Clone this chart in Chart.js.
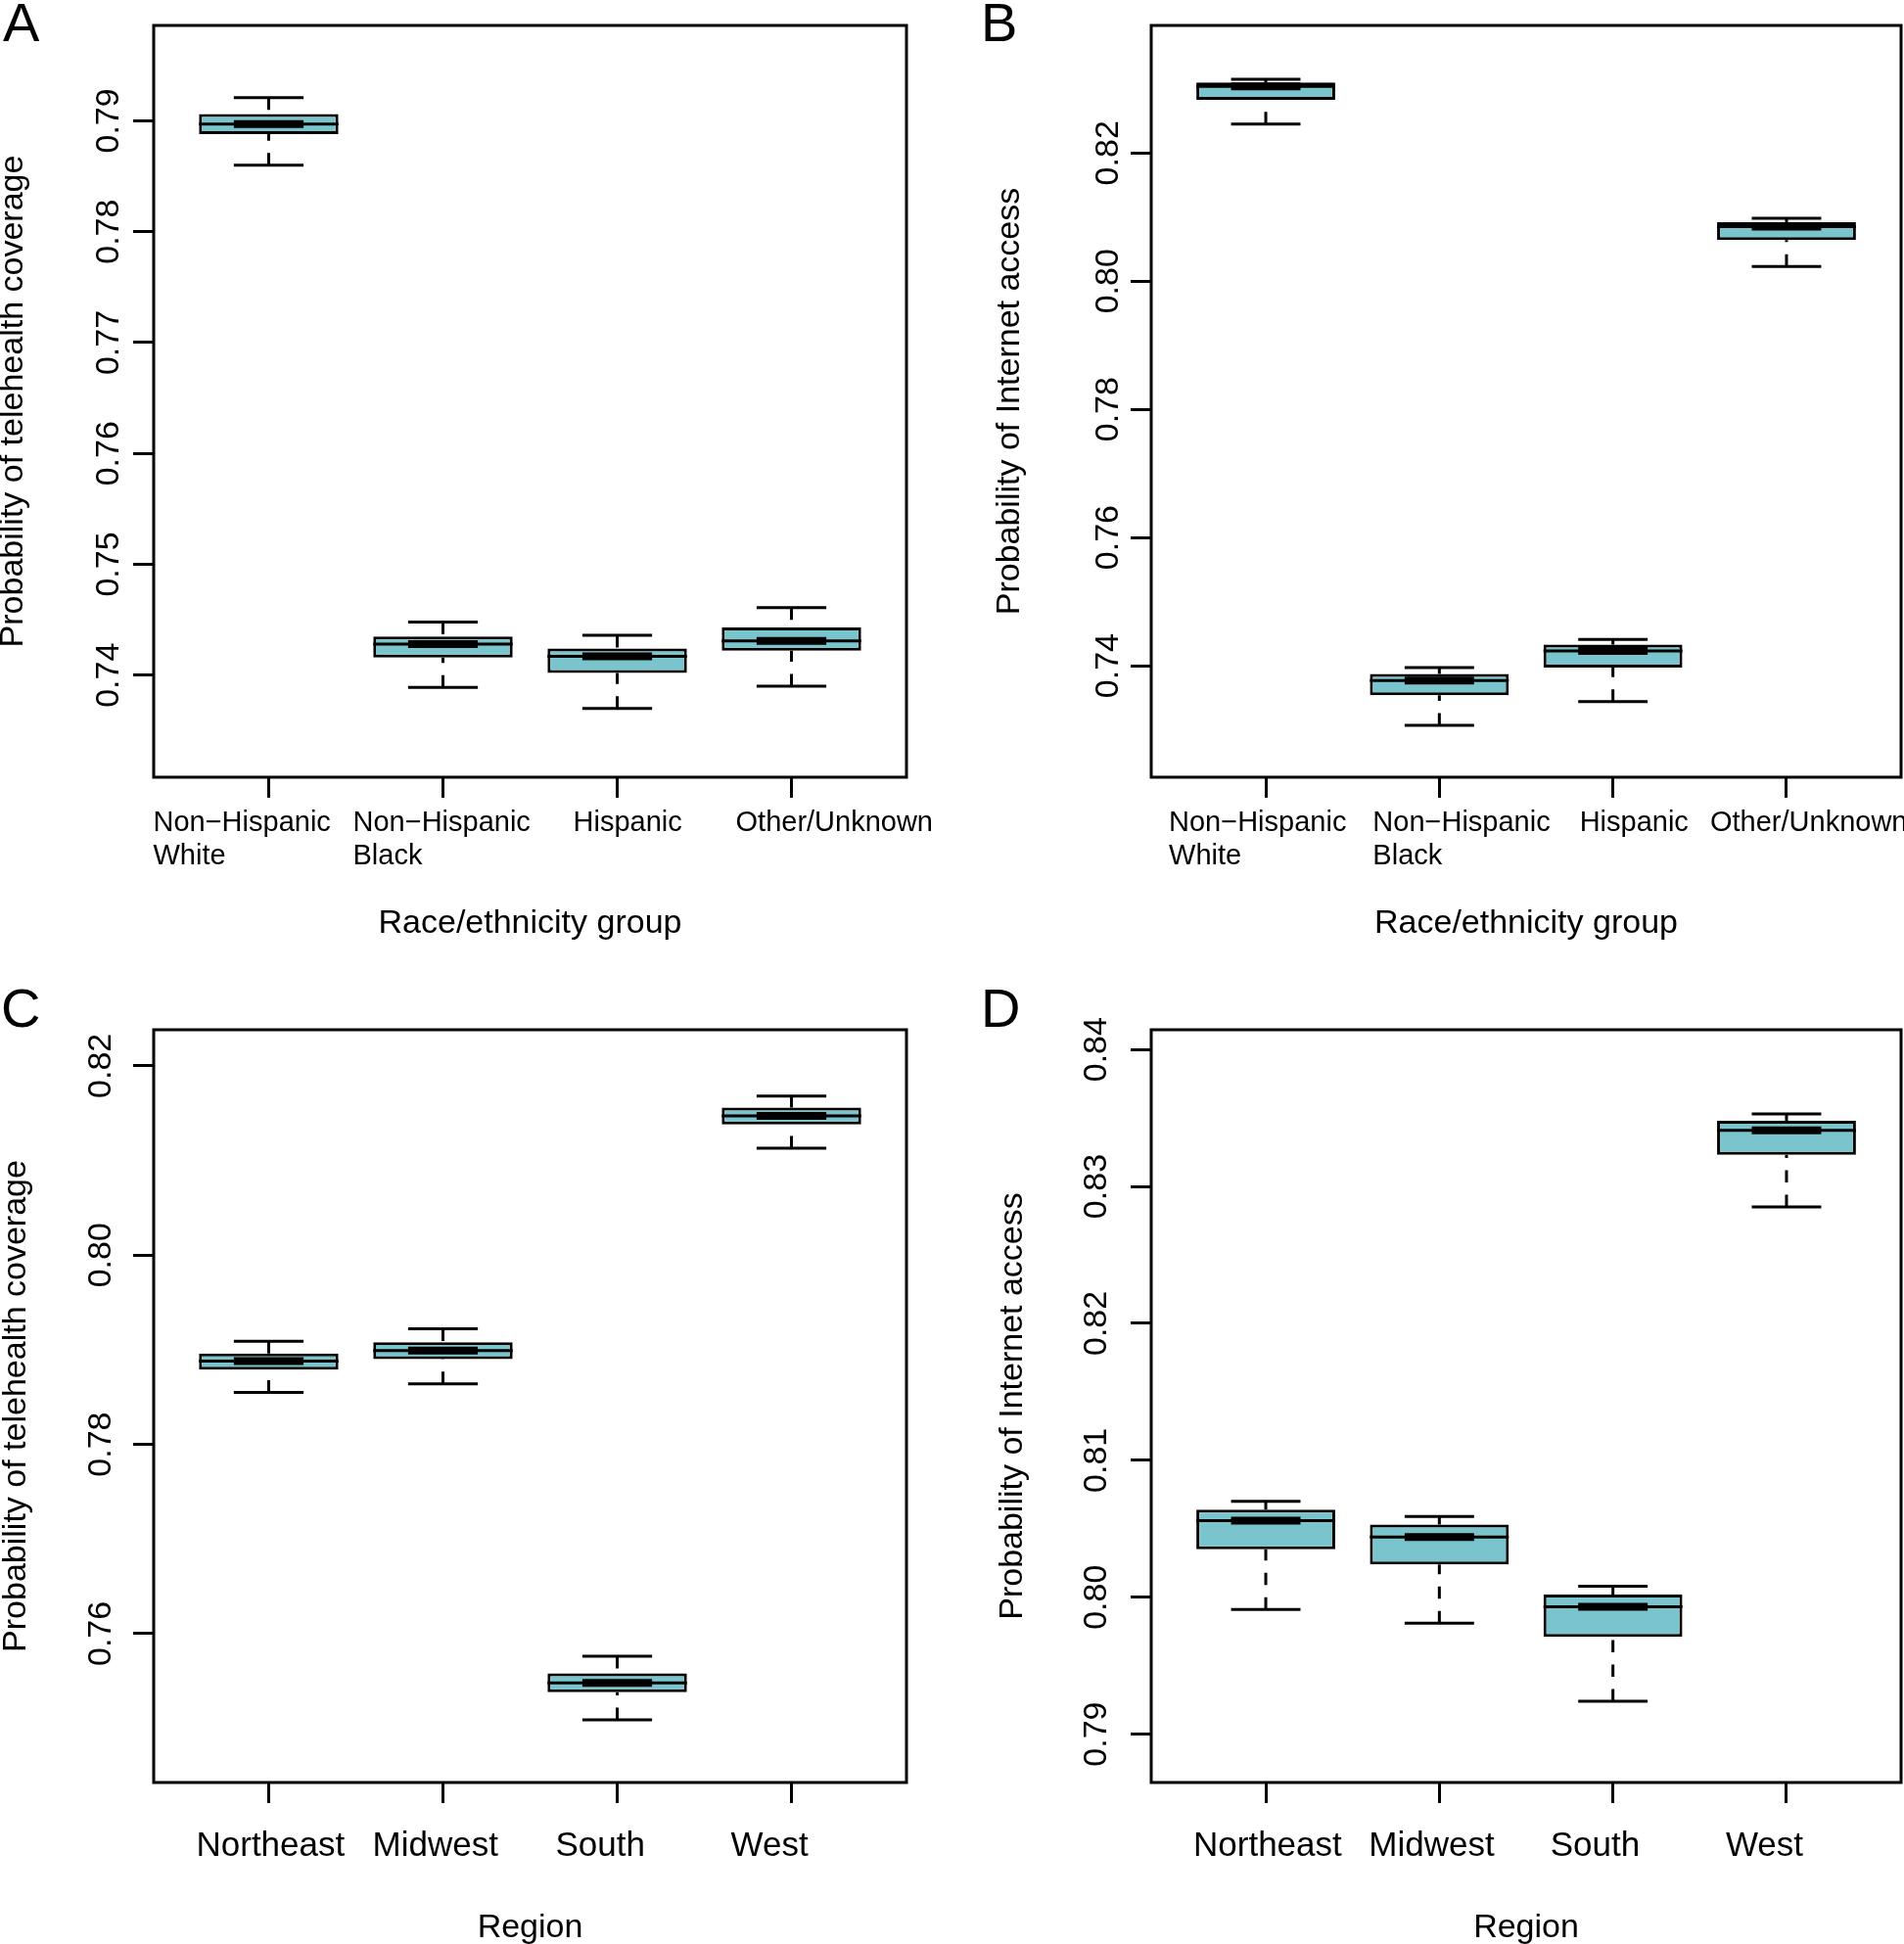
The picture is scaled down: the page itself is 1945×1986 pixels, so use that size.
<!DOCTYPE html>
<html>
<head>
<meta charset="utf-8">
<script src="https://cdn.jsdelivr.net/npm/chart.js@4.4.0/dist/chart.umd.min.js"></script>
<style>
  body { margin: 0; background: #fff; }
  #page { position: relative; width: 1945px; height: 1986px; overflow: hidden; background: #fff; }
  canvas { position: absolute; }
</style>
</head>
<body>
<div id="page">
  <canvas id="panelA" width="972" height="993" style="left:0px;top:0px"></canvas>
  <canvas id="panelB" width="973" height="993" style="left:972px;top:0px"></canvas>
  <canvas id="panelC" width="972" height="993" style="left:0px;top:993px"></canvas>
  <canvas id="panelD" width="973" height="993" style="left:972px;top:993px"></canvas>
</div>
<script>
// Categories
const raceGroups = ['Non\u2212Hispanic\nWhite', 'Non\u2212Hispanic\nBlack', 'Hispanic', 'Other/Unknown']
const regions = ['Northeast', 'Midwest', 'South', 'West']

// A - telehealth coverage by race/ethnicity (whisker low, Q1, median, Q3, whisker high)
const teleRaceLow = [0.7860, 0.7389, 0.7370, 0.7390]
const teleRaceQ1 = [0.7888, 0.7416, 0.7402, 0.7422]
const teleRaceMed = [0.7897, 0.7428, 0.7417, 0.7431]
const teleRaceQ3 = [0.7906, 0.7435, 0.7424, 0.7443]
const teleRaceHigh = [0.7921, 0.7448, 0.7436, 0.7461]

// B - Internet access by race/ethnicity
const netRaceLow = [0.8245, 0.7307, 0.7344, 0.8023]
const netRaceQ1 = [0.8283, 0.7354, 0.7397, 0.8064]
const netRaceMed = [0.8304, 0.7377, 0.7423, 0.8085]
const netRaceQ3 = [0.8310, 0.7387, 0.7433, 0.8092]
const netRaceHigh = [0.8315, 0.7397, 0.7441, 0.8098]

// C - telehealth coverage by region
const teleRegionLow = [0.7855, 0.7864, 0.7509, 0.8113]
const teleRegionQ1 = [0.7879, 0.7890, 0.7538, 0.8138]
const teleRegionMed = [0.7888, 0.7899, 0.7548, 0.8147]
const teleRegionQ3 = [0.7896, 0.7908, 0.7558, 0.8156]
const teleRegionHigh = [0.7909, 0.7922, 0.7576, 0.8168]

// D - Internet access by region
const netRegionLow = [0.7991, 0.7981, 0.7924, 0.8285]
const netRegionQ1 = [0.8035, 0.8024, 0.7971, 0.8323]
const netRegionMed = [0.8056, 0.8044, 0.7993, 0.8341]
const netRegionQ3 = [0.8064, 0.8053, 0.8002, 0.8348]
const netRegionHigh = [0.8070, 0.8059, 0.8008, 0.8353]

// Y tick labels
const teleRaceTicks = [0.74, 0.75, 0.76, 0.77, 0.78, 0.79]
const netRaceTicks = [0.74, 0.76, 0.78, 0.80, 0.82]
const teleRegionTicks = [0.76, 0.78, 0.80, 0.82]
const netRegionTicks = [0.79, 0.80, 0.81, 0.82, 0.83, 0.84]

const fontFamily = "'Liberation Sans', Arial, Helvetica, sans-serif"
const boxFill = '#7AC5CD'
Chart.defaults.font.family = fontFamily
Chart.defaults.color = '#000'

// Frame, tick labels and panel letter
const panelText = {
    id: 'panelText',
    afterDraw(chart, args, opts) {
        const {ctx, chartArea, scales} = chart
        ctx.save()
        ctx.strokeStyle = '#000'
        ctx.lineWidth = 3
        ctx.strokeRect(chartArea.left, chartArea.top, chartArea.right - chartArea.left, chartArea.bottom - chartArea.top)

        ctx.fillStyle = '#000'
        ctx.font = '34px ' + fontFamily
        ctx.textAlign = 'center'
        ctx.textBaseline = 'alphabetic'
        opts.yTicks.forEach(v => {
            const y = scales.y.getPixelForValue(v)
            ctx.save()
            ctx.translate(chartArea.left - opts.yLabelGap, y)
            ctx.rotate(-Math.PI / 2)
            ctx.fillText(v.toFixed(2), 0, 0)
            ctx.restore()
        })

        ctx.font = opts.xFont + 'px ' + fontFamily
        ctx.textAlign = 'left'
        opts.xLabels.forEach((label, i) => {
            const x = scales.x.getPixelForValue(i + 1) + opts.xShift[i]
            label.split('\n').forEach((line, j) => {
                ctx.fillText(line, x, chartArea.bottom + opts.xBase + j * opts.xLineGap)
            })
        })

        ctx.font = '56px ' + fontFamily
        ctx.fillText(opts.letter, opts.letterX, opts.letterY)
        ctx.restore()
    }
}

function makePanel(id, labels, low, q1, med, q3, high, yTicks, p) {
    const whiskers = []
    const staples = []
    const medLine = []
    const medBar = []
    const boxes = []
    for (let i = 0; i < med.length; i++) {
        const x = i + 1
        whiskers.push({x, y: high[i]}, {x, y: q3[i]}, {x, y: null}, {x, y: low[i]}, {x, y: q1[i]}, {x, y: null})
        staples.push({x: x - 0.2, y: high[i]}, {x: x + 0.2, y: high[i]}, {x, y: null},
                     {x: x - 0.2, y: low[i]}, {x: x + 0.2, y: low[i]}, {x, y: null})
        medLine.push({x: x - 0.4, y: med[i]}, {x: x + 0.4, y: med[i]}, {x, y: null})
        medBar.push({x: x - 0.2, y: med[i]}, {x: x + 0.2, y: med[i]}, {x, y: null})
        boxes.push({x, y: [q1[i], q3[i]]})
    }

    const lineBase = {type: 'line', borderColor: '#000', pointRadius: 0, pointHitRadius: 0, fill: false, borderCapStyle: 'butt', spanGaps: false}

    const gridOpts = {display: true, drawOnChartArea: false, drawTicks: true, tickLength: 21,
                      color: '#000', tickColor: '#000', lineWidth: 3, tickWidth: 3, offset: false}

    return new Chart(document.getElementById(id), {
        type: 'bar',
        data: {
            datasets: [
                Object.assign({}, lineBase, {label: 'whiskers', data: whiskers, borderWidth: 3, borderDash: [12.5, 12.5], order: 5}),
                {type: 'bar', label: 'box', data: boxes, backgroundColor: boxFill, borderColor: '#000', borderWidth: 3,
                 borderSkipped: false, barPercentage: 0.8, categoryPercentage: 1, order: 4},
                Object.assign({}, lineBase, {label: 'median', data: medLine, borderWidth: 3, order: 3}),
                Object.assign({}, lineBase, {label: 'median bar', data: medBar, borderWidth: 8, order: 2}),
                Object.assign({}, lineBase, {label: 'staples', data: staples, borderWidth: 3, order: 1})
            ]
        },
        options: {
            responsive: false,
            animation: false,
            devicePixelRatio: 1,
            layout: {padding: {top: p.top, right: p.right, bottom: 0, left: 0}},
            plugins: {
                legend: {display: false},
                tooltip: {enabled: false},
                panelText: {
                    letter: p.letter, letterX: p.letterX, letterY: p.letterY,
                    yTicks: yTicks, yLabelGap: p.yLabelGap,
                    xLabels: labels, xShift: p.xShift, xFont: p.xFont, xBase: p.xBase, xLineGap: p.xLineGap
                }
            },
            scales: {
                x: {
                    type: 'linear', min: 0.34, max: 4.66, offset: false,
                    afterBuildTicks: s => { s.ticks = [1, 2, 3, 4].map(v => ({value: v})) },
                    afterFit: s => { s.height = p.xHeight },
                    grid: gridOpts,
                    border: {display: false},
                    ticks: {display: false},
                    title: {display: true, text: p.xTitle, color: '#000', font: {size: 34, lineHeight: 1.2},
                            padding: {top: 0, bottom: p.xTitlePad}}
                },
                y: {
                    type: 'linear', min: p.yMin, max: p.yMax, beginAtZero: false,
                    afterBuildTicks: s => { s.ticks = yTicks.map(v => ({value: v})) },
                    afterFit: s => { s.width = p.yWidth },
                    grid: gridOpts,
                    border: {display: false},
                    ticks: {display: false},
                    title: {display: true, text: p.yTitle, color: '#000', font: {size: 34, lineHeight: 1.2},
                            padding: {top: p.yTitlePad, bottom: 0}}
                }
            }
        },
        plugins: [panelText]
    })
}

// Panel A
makePanel('panelA', raceGroups, teleRaceLow, teleRaceQ1, teleRaceMed, teleRaceQ3, teleRaceHigh, teleRaceTicks, {
    top: 26, right: 46, yWidth: 157, xHeight: 199, yMin: 0.7308, yMax: 0.7986,
    yLabelGap: 36, yTitle: 'Probability of telehealth coverage', yTitlePad: -6.7,
    xTitle: 'Race/ethnicity group', xTitlePad: 28.6,
    xShift: [-118, -92, -45, -57], xFont: 29, xBase: 54.5, xLineGap: 34,
    letter: 'A', letterX: 3, letterY: 42
})

// Panel B
makePanel('panelB', raceGroups, netRaceLow, netRaceQ1, netRaceMed, netRaceQ3, netRaceHigh, netRaceTicks, {
    top: 26, right: 3, yWidth: 204, xHeight: 199, yMin: 0.7226, yMax: 0.8399,
    yLabelGap: 34, yTitle: 'Probability of Internet access', yTitlePad: 38.8,
    xTitle: 'Race/ethnicity group', xTitlePad: 28.6,
    xShift: [-99, -68, -34, -78], xFont: 29, xBase: 54.5, xLineGap: 34,
    letter: 'B', letterX: 30, letterY: 42
})

// Panel C
makePanel('panelC', regions, teleRegionLow, teleRegionQ1, teleRegionMed, teleRegionQ3, teleRegionHigh, teleRegionTicks, {
    top: 59, right: 46, yWidth: 157, xHeight: 165, yMin: 0.74427, yMax: 0.82381,
    yLabelGap: 44, yTitle: 'Probability of telehealth coverage', yTitlePad: -4.2,
    xTitle: 'Region', xTitlePad: -3.6,
    xShift: [-74, -72, -63, -62], xFont: 35, xBase: 75, xLineGap: 40,
    letter: 'C', letterX: 1, letterY: 56
})

// Panel D
makePanel('panelD', regions, netRegionLow, netRegionQ1, netRegionMed, netRegionQ3, netRegionHigh, netRegionTicks, {
    top: 59, right: 3, yWidth: 204, xHeight: 165, yMin: 0.78647, yMax: 0.84144,
    yLabelGap: 46, yTitle: 'Probability of Internet access', yTitlePad: 41.8,
    xTitle: 'Region', xTitlePad: -3.6,
    xShift: [-74, -72, -64, -62], xFont: 35, xBase: 75, xLineGap: 40,
    letter: 'D', letterX: 30, letterY: 56
})
</script>
</body>
</html>
